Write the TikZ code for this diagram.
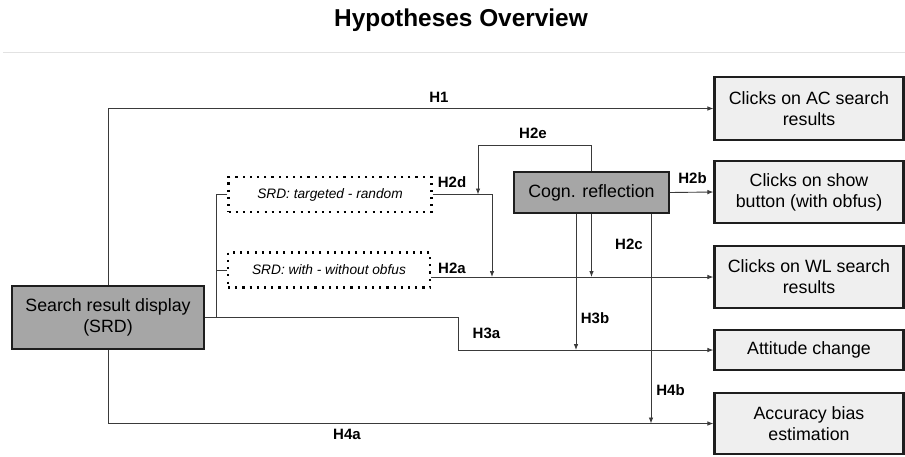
\documentclass[tikz,border=0pt]{standalone}
\usepackage{fontspec}
\setmainfont{Liberation Sans}
\usetikzlibrary{arrows.meta}

\definecolor{darkfill}{HTML}{A6A6A6}
\definecolor{lightfill}{HTML}{EFEFEF}
\definecolor{edge}{HTML}{1E1E1E}
\definecolor{wire}{HTML}{3A3A3A}
\definecolor{rule}{HTML}{E2E2E2}

\tikzset{
  boxtext/.style={font=\fontsize{17.8}{21}\selectfont, align=center, inner sep=0pt},
  outcome/.style={boxtext, draw=edge, line width=2.2pt, fill=lightfill,
                  minimum width=189pt},
  factor/.style={boxtext, draw=edge, line width=2.2pt, fill=darkfill},
  variant/.style={font=\fontsize{13.7}{16}\selectfont\itshape, draw=black,
                  line width=2.1pt, dash pattern=on 2.1pt off 5.1pt,
                  minimum height=35pt, inner sep=0pt},
  conn/.style={draw=wire, line width=0.9pt, -{Latex[length=6pt,width=4.6pt]}},
  wireline/.style={draw=wire, line width=0.9pt},
  hyp/.style={font=\fontsize{15}{18}\selectfont\bfseries, inner sep=0pt}
}

\begin{document}
\begin{tikzpicture}[x=1pt, y=-1pt]
  \useasboundingbox (0,0) rectangle (905,456);

  % heading and separator
  \node[font=\fontsize{24.4}{29}\selectfont\bfseries, anchor=base] (title) at (461,26.5) {Hypotheses Overview};
  \coordinate (ruleL) at (3,52.5);
  \coordinate (ruleR) at (905,52.5);
  \draw[rule, line width=1pt] (ruleL) -- (ruleR);

  % outcome boxes
  \node[outcome, minimum height=63pt] (ac)   at (809,108.5) {Clicks on AC search\\results};
  \node[outcome, minimum height=62pt] (show) at (809,192)   {Clicks on show\\button (with obfus)};
  \node[outcome, minimum height=62pt] (wl)   at (809,277)   {Clicks on WL search\\results};
  \node[outcome, minimum height=40pt] (att)  at (809,350)   {Attitude change};
  \node[outcome, minimum height=61pt] (acc)  at (809,423.5) {Accuracy bias\\estimation};

  % factors
  \node[factor, minimum width=192pt, minimum height=63pt] (srd) at (108,317.5) {Search result display\\(SRD)};
  \node[factor, minimum width=155pt, minimum height=41pt] (cog) at (591.5,192.5) {Cogn. reflection};

  % SRD variants
  \node[variant, minimum width=203pt] (tr) at (330,194.5) {SRD: targeted - random};
  \node[variant, minimum width=202pt] (wo) at (329,270)   {SRD: with - without obfus};

  % helper points for the routed connectors
  \coordinate (split) at (216,317.5);
  \coordinate (bend3a) at (458,317.5);
  \coordinate (bend2d) at (492,194.5);
  \coordinate (loop2e) at (478,145);
  \coordinate (foot3b) at ([xshift=-15.5pt]cog.south);
  \coordinate (foot4b) at ([xshift=59.5pt]cog.south);

  % H1 and H4a
  \draw[conn] (srd.north) |- (ac.west);
  \draw[conn] (srd.south) |- (acc.west);

  % SRD fork to the variants and H3a
  \draw[wireline] (tr.west) -| (split);
  \draw[wireline] (wo.west) -- (split |- wo.west);
  \draw[conn] (srd.east) -- (bend3a) |- (att.west);

  % H2d and H2a
  \draw[conn] (tr.east) -- (bend2d) -- (bend2d |- wl.west);
  \draw[conn] (wo.east |- wl.west) -- (wl.west);

  % cognitive reflection links
  \draw[conn] (cog.north) |- (loop2e) -- (loop2e |- tr.east);
  \draw[conn] (cog.east) -- (show.west);
  \draw[conn] (cog.south) -- (cog.south |- wl.west);
  \draw[conn] (foot3b) -- (foot3b |- att.west);
  \draw[conn] (foot4b) -- (foot4b |- acc.west);

  % hypothesis labels
  \node[hyp] (lH1)  at (439,97)    {H1};
  \node[hyp] (lH2e) at (533,133)   {H2e};
  \node[hyp] (lH2d) at (452,182)   {H2d};
  \node[hyp] (lH2b) at (692.5,178) {H2b};
  \node[hyp] (lH2c) at (629,244.5) {H2c};
  \node[hyp] (lH2a) at (452,268)   {H2a};
  \node[hyp] (lH3b) at (595,318)   {H3b};
  \node[hyp] (lH3a) at (486.5,333.5) {H3a};
  \node[hyp] (lH4b) at (670.5,390) {H4b};
  \node[hyp] (lH4a) at (347,434)   {H4a};
\end{tikzpicture}
\end{document}
